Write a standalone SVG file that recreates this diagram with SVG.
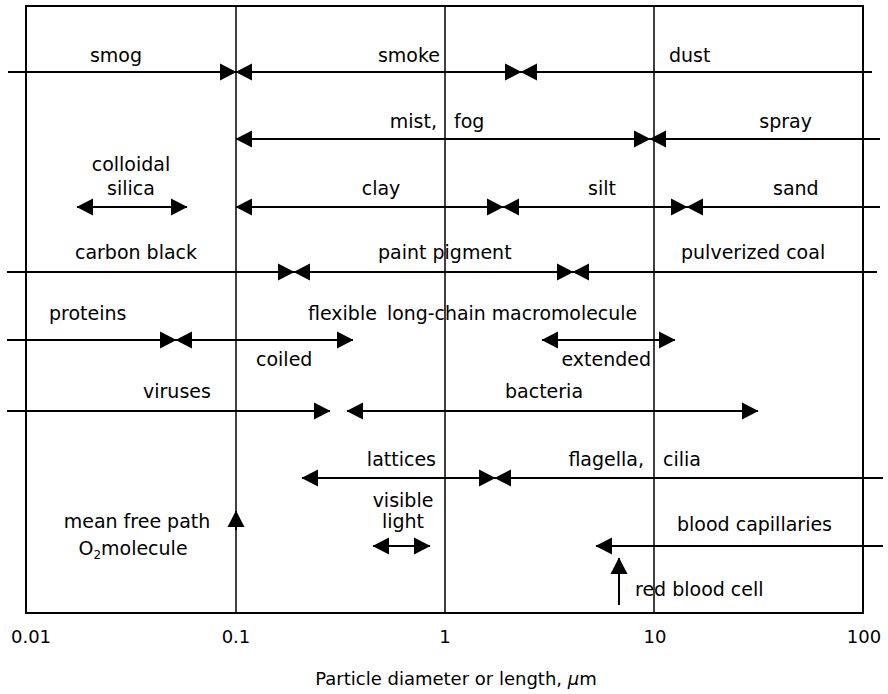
<svg xmlns="http://www.w3.org/2000/svg" width="888" height="694" viewBox="0 0 888 694">
<style>
.t{font-family:"DejaVu Sans","Liberation Sans",sans-serif;font-size:19px;fill:#000}
.a{font-size:18px}
.m{text-anchor:middle}
.e{text-anchor:end}
.g{stroke:#000;stroke-width:1.5;fill:none}
.f{stroke:#000;stroke-width:2;fill:none}
.r{stroke:#000;stroke-width:2;fill:none}
.b{marker-start:url(#ah);marker-end:url(#ah)}
.s{marker-start:url(#ah)}
.n{marker-end:url(#ah)}
</style>
<defs>
<marker id="ah" markerUnits="userSpaceOnUse" viewBox="0 0 17 18" markerWidth="17" markerHeight="18" refX="16" refY="9" orient="auto-start-reverse">
<path d="M0,0.5 L16.5,9 L0,17.5 z" fill="#000"/>
</marker>
</defs>
<rect width="888" height="694" fill="#fff"/>
<g id="frame">
<rect class="f" x="26" y="6" width="837" height="607"/>
<line class="g" x1="236" y1="6" x2="236" y2="613"/>
<line class="g" x1="445" y1="6" x2="445" y2="613"/>
<line class="g" x1="654" y1="6" x2="654" y2="613"/>
</g>
<g id="axis">
<text class="t a m" x="31" y="643">0.01</text>
<text class="t a m" x="236" y="643">0.1</text>
<text class="t a m" x="445" y="643">1</text>
<text class="t a m" x="655" y="643">10</text>
<text class="t a m" x="864" y="643">100</text>
<text class="t a m" x="456" y="685">Particle diameter or length, <tspan font-style="italic">µ</tspan>m</text>
</g>
<g id="connectors">
<line class="r n" x1="8" y1="72" x2="236" y2="72"/>
<line class="r b" x1="236" y1="72" x2="521" y2="72"/>
<line class="r s" x1="521" y1="72" x2="872" y2="72"/>
<line class="r b" x1="236" y1="139" x2="650" y2="139"/>
<line class="r s" x1="650" y1="139" x2="880" y2="139"/>
<line class="r b" x1="77" y1="207" x2="187" y2="207"/>
<line class="r b" x1="236" y1="207" x2="503" y2="207"/>
<line class="r b" x1="503" y1="207" x2="687" y2="207"/>
<line class="r s" x1="687" y1="207" x2="880" y2="207"/>
<line class="r n" x1="7" y1="272" x2="294" y2="272"/>
<line class="r b" x1="294" y1="272" x2="573" y2="272"/>
<line class="r s" x1="573" y1="272" x2="877" y2="272"/>
<line class="r n" x1="7" y1="340" x2="176" y2="340"/>
<line class="r b" x1="176" y1="340" x2="353" y2="340"/>
<line class="r b" x1="542" y1="340" x2="675" y2="340"/>
<line class="r n" x1="7" y1="411" x2="330" y2="411"/>
<line class="r b" x1="347" y1="411" x2="758" y2="411"/>
<line class="r b" x1="302" y1="478" x2="495" y2="478"/>
<line class="r s" x1="495" y1="478" x2="883" y2="478"/>
<line class="r b" x1="373" y1="546" x2="430" y2="546"/>
<line class="r s" x1="596" y1="546" x2="883" y2="546"/>
<line class="r n" x1="236" y1="530" x2="236" y2="511"/>
<line class="r n" x1="619" y1="605" x2="619" y2="558"/>
</g>
<g id="smog"><text class="t m" x="116" y="62">smog</text></g>
<g id="smoke"><text class="t e" x="440" y="62">smoke</text></g>
<g id="dust"><text class="t" x="669" y="62">dust</text></g>
<g id="mist-fog"><text class="t e" x="437" y="128">mist,</text><text class="t" x="454" y="128">fog</text></g>
<g id="spray"><text class="t e" x="812" y="128">spray</text></g>
<g id="colloidal-silica"><text class="t m" x="131" y="171">colloidal</text><text class="t m" x="131" y="195">silica</text></g>
<g id="clay"><text class="t m" x="381" y="195">clay</text></g>
<g id="silt"><text class="t" x="588" y="195">silt</text></g>
<g id="sand"><text class="t" x="773" y="195">sand</text></g>
<g id="carbon-black"><text class="t m" x="136" y="259">carbon black</text></g>
<g id="paint-pigment"><text class="t" x="378" y="259">paint pigment</text></g>
<g id="pulverized-coal"><text class="t" x="681" y="259">pulverized coal</text></g>
<g id="proteins"><text class="t" x="49" y="320">proteins</text></g>
<g id="macromolecule"><text class="t" x="308" y="320">flexible</text><text class="t" x="387" y="320" textLength="250" lengthAdjust="spacingAndGlyphs">long-chain macromolecule</text></g>
<g id="coiled"><text class="t" x="256" y="366">coiled</text></g>
<g id="extended"><text class="t e" x="651" y="366">extended</text></g>
<g id="viruses"><text class="t" x="143" y="398">viruses</text></g>
<g id="bacteria"><text class="t" x="505" y="398">bacteria</text></g>
<g id="lattices"><text class="t e" x="436" y="466">lattices</text></g>
<g id="flagella-cilia"><text class="t e" x="644" y="466">flagella,</text><text class="t" x="663" y="466">cilia</text></g>
<g id="visible-light"><text class="t m" x="403" y="507">visible</text><text class="t m" x="403" y="528">light</text></g>
<g id="mean-free-path"><text class="t m" x="137" y="528">mean free path</text><text class="t m" x="133" y="555">O<tspan font-size="12" dy="4">2</tspan><tspan dy="-4">molecule</tspan></text></g>
<g id="blood-capillaries"><text class="t" x="677" y="531">blood capillaries</text></g>
<g id="red-blood-cell"><text class="t" x="635" y="596">red blood cell</text></g>
</svg>
